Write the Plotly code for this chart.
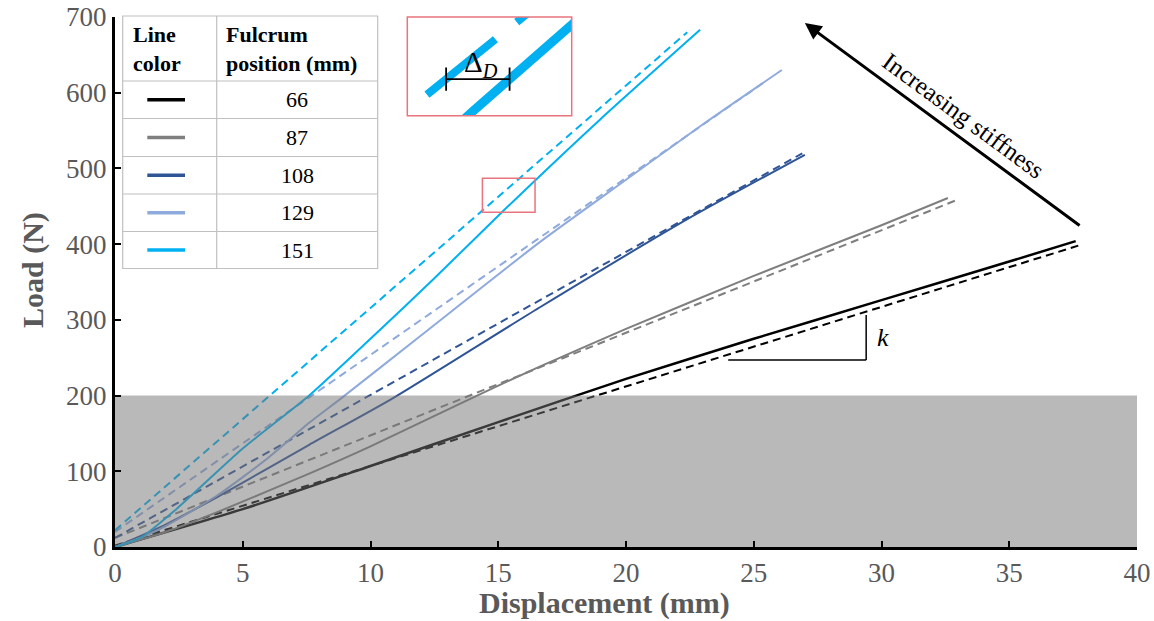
import plotly.graph_objects as go
import numpy as np

# ---------------- data ----------------
fulcrum_mm = ["66", "87", "108", "129", "151"]
colors = ["#000000", "#7F7F7F", "#2F5597", "#8FAADC", "#00B0F0"]

# experimental curves (solid)
disp_66 = [0, 5, 10, 15, 20, 25, 30, 35, 37.6]
load_66 = [0, 50, 107, 165, 222, 275, 326, 377, 404]
disp_87 = [0, 2, 4, 7.6, 10, 13.8, 16.6, 20, 25, 30, 32.6]
load_87 = [0, 20, 46, 97, 133, 194, 238, 288, 358, 425, 461]
disp_108 = [0, 2, 4, 7.6, 10.8, 16.6, 22.4, 27.0]
load_108 = [0, 30, 66, 135, 195, 316, 433, 518]
disp_129 = [0, 1, 2, 4, 6, 7.6, 8.8, 12, 16.6, 20, 23, 26.1]
load_129 = [0, 12, 28, 68, 118, 164, 195, 280, 402, 485, 558, 630]
disp_151 = [0, 1, 2.4, 5, 7.6, 10, 12.5, 15.2, 19, 22.9]
load_151 = [0, 12, 50, 130, 200, 275, 355, 444, 565, 683]

# linear fits (dashed): start / end points
fit_disp_66 = [0, 37.7]
fit_load_66 = [2, 398]
fit_disp_87 = [0, 33.0]
fit_load_87 = [12, 459]
fit_disp_108 = [0, 26.9]
fit_load_108 = [12, 520]
fit_disp_129 = [0, 25.5]
fit_load_129 = [20, 616]
fit_disp_151 = [0, 22.4]
fit_load_151 = [22, 680]

shaded_disp = [0, 40]
shaded_load = [0, 200]

x_ticks = [0, 5, 10, 15, 20, 25, 30, 35, 40]
y_ticks = [0, 100, 200, 300, 400, 500, 600, 700]

# zoom window shown in the inset
zoom_disp = [14.38, 16.44]
zoom_load = [442, 487]
delta_level = 458.7

solids = [(disp_66, load_66), (disp_87, load_87), (disp_108, load_108),
          (disp_129, load_129), (disp_151, load_151)]
fits = [(fit_disp_66, fit_load_66), (fit_disp_87, fit_load_87),
        (fit_disp_108, fit_load_108), (fit_disp_129, fit_load_129),
        (fit_disp_151, fit_load_151)]

# ---------------- geometry ----------------
W, H = 1154, 621
ML, MR, MT, MB = 115, 17, 17, 74
PW, PH = W - ML - MR, H - MT - MB


def px(xp):
    return (xp - ML) / PW


def py(yp):
    return (H - MB - yp) / PH


SERIF = "Liberation Serif, Times New Roman, serif"
TXT_GRAY = "#595959"
RED = "#E8757D"

fig = go.Figure()

for i, ((fx, fy), (sx, sy)) in enumerate(zip(fits, solids)):
    fig.add_trace(go.Scatter(x=fx, y=fy, mode="lines",
                             line=dict(color=colors[i], width=2, dash="8px,5px"),
                             showlegend=False, hoverinfo="skip"))
    fig.add_trace(go.Scatter(x=sx, y=sy, mode="lines", line_shape="spline",
                             line=dict(color=colors[i], width=2.5 if i == 0 else 2,
                                       smoothing=0.6),
                             showlegend=False, hoverinfo="skip"))

# shaded region (semi-transparent overlay)
fig.add_trace(go.Scatter(
    x=[shaded_disp[0], shaded_disp[1], shaded_disp[1], shaded_disp[0], shaded_disp[0]],
    y=[shaded_load[0], shaded_load[0], shaded_load[1], shaded_load[1], shaded_load[0]],
    mode="lines", fill="toself", fillcolor="rgba(115,115,115,0.5)",
    line=dict(width=0), showlegend=False, hoverinfo="skip"))

# inset traces
fig.add_trace(go.Scatter(x=fit_disp_151, y=fit_load_151, mode="lines",
                         line=dict(color=colors[4], width=8, dash="88px,27.4px"),
                         xaxis="x2", yaxis="y2", showlegend=False, hoverinfo="skip"))
fig.add_trace(go.Scatter(x=disp_151, y=load_151, mode="lines",
                         line=dict(color=colors[4], width=9),
                         xaxis="x2", yaxis="y2", showlegend=False, hoverinfo="skip"))

shapes = []
annotations = []

# ---- axis titles ----
annotations.append(dict(xref="paper", yref="paper", x=px(604), y=py(603),
                        xanchor="center", yanchor="middle", showarrow=False,
                        text="<b>Displacement (mm)</b>",
                        font=dict(family=SERIF, size=30, color=TXT_GRAY)))
annotations.append(dict(xref="paper", yref="paper", x=px(33), y=py(270),
                        xanchor="center", yanchor="middle", showarrow=False,
                        textangle=-90, text="<b>Load (N)</b>",
                        font=dict(family=SERIF, size=30, color=TXT_GRAY)))

# ---- table ----
tx0, tx1, tx2 = 122.7, 216.7, 377.7
rows = [16, 81, 118.5, 156.5, 194, 231.5, 268.5]
shapes.append(dict(type="rect", xref="paper", yref="paper",
                   x0=px(tx0), x1=px(tx2), y0=py(rows[-1]), y1=py(rows[0]),
                   line=dict(color="#C0C0C0", width=1.2), fillcolor="white", layer="above"))
for r in rows[1:-1]:
    shapes.append(dict(type="line", xref="paper", yref="paper",
                       x0=px(tx0), x1=px(tx2), y0=py(r), y1=py(r),
                       line=dict(color="#C0C0C0", width=1.2), layer="above"))
shapes.append(dict(type="line", xref="paper", yref="paper",
                   x0=px(tx1), x1=px(tx1), y0=py(rows[-1]), y1=py(rows[0]),
                   line=dict(color="#C0C0C0", width=1.2), layer="above"))
annotations.append(dict(xref="paper", yref="paper", x=px(131), y=py(49),
                        xanchor="left", yanchor="middle", align="left", showarrow=False,
                        text="<b>Line<br>color</b>",
                        font=dict(family=SERIF, size=22, color="black")))
annotations.append(dict(xref="paper", yref="paper", x=px(224), y=py(49),
                        xanchor="left", yanchor="middle", align="left", showarrow=False,
                        text="<b>Fulcrum<br>position (mm)</b>",
                        font=dict(family=SERIF, size=22, color="black")))
for i, lab in enumerate(fulcrum_mm):
    yc = (rows[i + 1] + rows[i + 2]) / 2
    shapes.append(dict(type="line", xref="paper", yref="paper",
                       x0=px(147.3), x1=px(185), y0=py(yc), y1=py(yc),
                       line=dict(color=colors[i], width=3.5), layer="above"))
    annotations.append(dict(xref="paper", yref="paper", x=px((tx1 + tx2) / 2), y=py(yc),
                            xanchor="center", yanchor="middle", showarrow=False,
                            text=lab, font=dict(family=SERIF, size=22, color="black")))

# ---- zoom boxes ----
shapes.append(dict(type="rect", xref="x", yref="y",
                   x0=zoom_disp[0], x1=zoom_disp[1], y0=zoom_load[0], y1=zoom_load[1],
                   line=dict(color=RED, width=1.5), layer="above"))
shapes.append(dict(type="rect", xref="paper", yref="paper",
                   x0=px(407.3), x1=px(571.7), y0=py(115.7), y1=1.0,
                   line=dict(color=RED, width=1.5), layer="above"))

# ---- delta_D marker in inset ----
a_fit = fit_load_151[0]
b_fit = (fit_load_151[1] - fit_load_151[0]) / (fit_disp_151[1] - fit_disp_151[0])
x_dash = (delta_level - a_fit) / b_fit
x_solid = float(np.interp(delta_level, load_151, disp_151))
cap = 5.3
shapes.append(dict(type="line", xref="x2", yref="y2", x0=x_dash, x1=x_solid,
                   y0=delta_level, y1=delta_level, line=dict(color="black", width=1.8)))
for xv in (x_dash, x_solid):
    shapes.append(dict(type="line", xref="x2", yref="y2", x0=xv, x1=xv,
                       y0=delta_level - cap, y1=delta_level + cap,
                       line=dict(color="black", width=1.8)))
annotations.append(dict(xref="x2", yref="y2", x=(x_dash + x_solid) / 2, y=delta_level,
                        xanchor="center", yanchor="bottom", yshift=-5, xshift=3,
                        showarrow=False, text="Δ<sub><i>D</i></sub>",
                        font=dict(family=SERIF, size=29, color="black")))

# ---- stiffness arrow ----
annotations.append(dict(xref="x", yref="y", axref="x", ayref="y",
                        x=27.0, y=692, ax=37.87, ay=421.7, text=" ",
                        showarrow=True, arrowhead=2, arrowsize=1.1, arrowwidth=3,
                        arrowcolor="black"))
annotations.append(dict(xref="x", yref="y", x=33.2, y=570, text="Increasing stiffness",
                        textangle=36.3, showarrow=False,
                        font=dict(family=SERIF, size=25, color="black")))

# ---- slope triangle ----
shapes.append(dict(type="line", xref="x", yref="y", x0=24.0, x1=29.4, y0=247, y1=247,
                   line=dict(color="black", width=1.5)))
shapes.append(dict(type="line", xref="x", yref="y", x0=29.4, x1=29.4, y0=247, y1=306.5,
                   line=dict(color="black", width=1.5)))
annotations.append(dict(xref="x", yref="y", x=30.06, y=276.6, text="<i>k</i>",
                        showarrow=False, font=dict(family=SERIF, size=26, color="black")))

axis_common = dict(showgrid=False, zeroline=False, showline=True, linecolor="black",
                   linewidth=3, ticks="inside", ticklen=6, tickwidth=2, tickcolor="black",
                   automargin=False,
                   tickfont=dict(family=SERIF, size=27, color=TXT_GRAY))

fig.update_layout(
    width=W, height=H,
    margin=dict(l=ML, r=MR, t=MT, b=MB, autoexpand=False),
    paper_bgcolor="white", plot_bgcolor="white",
    xaxis=dict(range=[0, 40], tickvals=x_ticks, domain=[0, 1], **axis_common),
    yaxis=dict(range=[0, 700], tickvals=y_ticks, domain=[0, 1], **axis_common),
    xaxis2=dict(domain=[px(407.3), px(571.7)], range=zoom_disp, anchor="y2",
                visible=False),
    yaxis2=dict(domain=[py(115.7), 1.0], range=zoom_load, anchor="x2",
                visible=False),
    shapes=shapes,
    annotations=annotations,
)

fig.write_html("out.html",
               config={"displayModeBar": False},
               post_script="document.body.style.margin='0';"
                           "document.body.style.overflow='hidden';")
